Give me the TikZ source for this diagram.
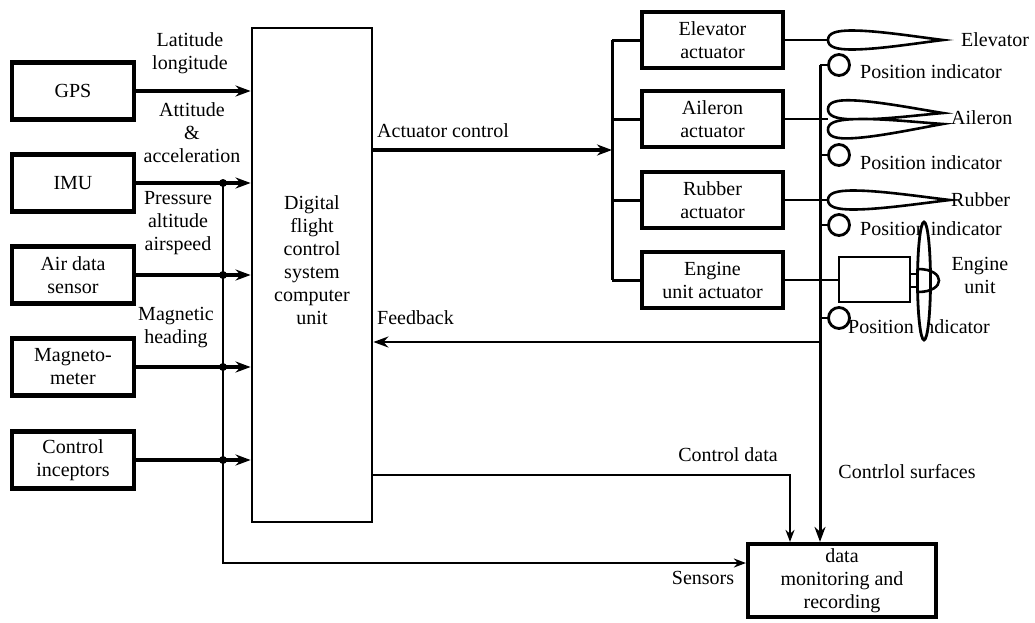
\documentclass[tikz,border=0pt]{standalone}
\usepackage{fontspec}
\setmainfont{Liberation Serif}
\usetikzlibrary{arrows.meta}

% wing profile, leading edge at the origin
\tikzset{
  airfoil/.pic={
    \draw[line width=2.6pt,fill=white] (0,0) .. controls (0,-7) and (8,-9.5) .. (24,-9.5)
      .. controls (50,-9.5) and (90,-3) .. (115,0)
      .. controls (90,3) and (50,9.5) .. (24,9.5)
      .. controls (8,9.5) and (0,7) .. (0,0) -- cycle;
  }
}

\begin{document}
\begin{tikzpicture}[x=1pt,y=-1pt,
    font=\fontsize{20}{23}\selectfont,
    >={Stealth[length=15pt,width=11pt]},
    sensor/.style={draw,line width=4.2pt,minimum width=122pt,minimum height=57pt,align=center,inner sep=0pt},
    actbox/.style={draw,line width=3.6pt,minimum width=141pt,minimum height=56pt,align=center,inner sep=0pt},
    posind/.style={draw,circle,line width=2.8pt,minimum size=21pt,inner sep=0pt},
    lbl/.style={align=center,inner sep=0pt},
    sig/.style={line width=3.4pt,->},
    wire/.style={line width=2.3pt},
    wirearr/.style={line width=2.3pt,-{Stealth[length=12pt,width=9pt]}}]
  \useasboundingbox (0,0) rectangle (1035,622);

  % sensors on the left
  \node[sensor] (gps) at (73,91) {GPS};
  \node[sensor] (imu) at (73,183) {IMU};
  \node[sensor] (air) at (73,275) {Air data\\sensor};
  \node[sensor] (mag) at (73,367) {Magneto-\\meter};
  \node[sensor] (inc) at (73,460) {Control\\inceptors};

  % flight computer
  \node[draw,line width=2.8pt,minimum width=120pt,minimum height=494pt] (dfcs) at (312,275) {};
  \node[lbl] (dfcstxt) at (312,260) {Digital\\flight\\control\\system\\computer\\unit};

  %% sensor bus
  \coordinate (bus) at (223,0);
  \draw[sig] (gps) -- (gps -| dfcs.west);
  \foreach \s in {imu,air,mag,inc}
  {
    \draw[sig] (\s) -- (\s -| dfcs.west);
    \fill (\s -| bus) circle (4);
  }
  \node[lbl] (latlon) at (190,53) {Latitude\\longitude};
  \node[lbl] (attacc) at (192,133) {Attitude\\\&\\acceleration};
  \node[lbl] (presalt) at (178,223) {Pressure\\altitude\\airspeed};
  \node[lbl] (maghead) at (176,328) {Magnetic\\heading};

  %% actuators
  \node[actbox] (elevact) at (712.5,40) {Elevator\\actuator};
  \node[actbox] (ailact) at (712.5,119) {Aileron\\actuator};
  \node[actbox] (rubact) at (712.5,200) {Rubber\\actuator};
  \node[actbox] (engact) at (712.5,280) {Engine\\unit actuator};

  \coordinate (actbus) at (612,150);
  \draw[sig] ([yshift=125pt]dfcs.east) -- (actbus);
  \node[lbl,anchor=west] (actctl) at (377,131) {Actuator control};
  \draw[line width=3pt] (elevact.west -| actbus) -- (engact.west -| actbus);
  \foreach \a in {elevact,ailact,rubact,engact}
    \draw[line width=3pt] (\a.west -| actbus) -- (\a.west);

  % control surfaces
  \coordinate (elevfoil) at (828,40);
  \coordinate (ailfoil) at (828,119);
  \coordinate (rubfoil) at (828,200);
  \draw[wire] (elevact.east) -- (elevfoil);
  \draw[wire] (ailact.east) -- (ailfoil);
  \draw[wire] (rubact.east) -- (rubfoil);
  \pic at (elevfoil) {airfoil};
  \pic[rotate=-2] at (828,109) {airfoil};
  \pic[rotate=3] at (828,130) {airfoil};
  \pic[xscale=1.06] at (rubfoil) {airfoil};
  \node[lbl,anchor=west] (elevl) at (961,40) {Elevator};
  \node[lbl,anchor=west] (aill) at (951,118) {Aileron};
  \node[lbl,anchor=west] (rubl) at (951,200) {Rubber};

  % engine with propeller
  \node[draw,line width=2.8pt,minimum width=71pt,minimum height=45pt,inner sep=0pt] (engbody) at (874.5,279.5) {};
  \draw[wire] (engact.east) -- (engact.east -| engbody.west);
  \draw[line width=2.4pt] (910,274) rectangle (918,287);
  \node[lbl] (engl) at (980,275) {Engine\\unit};

  %% position indicators
  \coordinate (surf) at (820,65);
  \node[posind] (elevpos) at (839,65) {};
  \node[posind] (ailpos) at (839,155) {};
  \node[posind] (rubpos) at (839,225) {};
  \node[posind] (engpos) at (839,318) {};
  \foreach \p in {elevpos,ailpos,rubpos,engpos}
    \draw[wire] (\p.west -| surf) -- (\p.west);
  \node[lbl,anchor=west] (elevposl) at (860,72) {Position indicator};
  \node[lbl,anchor=west] (ailposl) at (860,163) {Position indicator};
  \node[lbl,anchor=west] (rubposl) at (860,229) {Position indicator};
  \node[lbl,anchor=west] (engposl) at (848,327) {Position indicator};
  \draw[line width=2.8pt,fill=white] (924,281) ellipse (6.5 and 59);
  \draw[line width=2.6pt] (918,269) .. controls (946,269) and (946,292) .. (918,292);

  % monitoring
  \node[draw,line width=4.2pt,minimum width=188pt,minimum height=73pt,align=center,inner sep=0pt] (datamon) at (842,580.5) {data\\monitoring and\\recording};
  \draw[line width=3pt,->] (surf) -- (surf |- datamon.north);
  \node[lbl] (surfl) at (907,472) {Contrlol surfaces};

  \coordinate (fb) at (820,342);
  \draw[wire,->] (fb) -- (fb -| dfcs.east);
  \node[lbl,anchor=west] (fbl) at (377,318) {Feedback};

  \draw[wirearr] ([yshift=-200pt]dfcs.east) -| ([xshift=-52pt]datamon.north);
  \node[lbl] (ctldata) at (728,455) {Control data};

  \coordinate (senin) at ([yshift=17.5pt]datamon.west);
  \draw[wirearr] (imu -| bus) |- (senin);
  \node[lbl] (sens) at (703,578) {Sensors};
\end{tikzpicture}
\end{document}
